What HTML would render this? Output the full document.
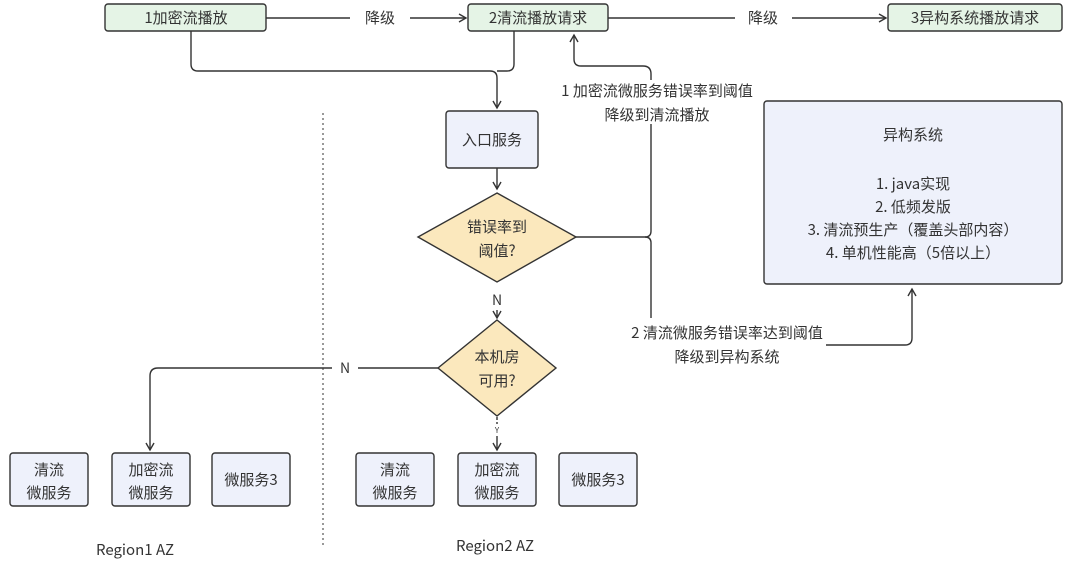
<!DOCTYPE html>
<html><head><meta charset="utf-8"><style>
html,body{margin:0;padding:0;background:#fff;}
svg{display:block;}
text{font-family:"Noto Sans CJK SC","Liberation Sans",sans-serif;fill:#333;}
</style></head><body>
<svg width="1080" height="569" viewBox="0 0 1080 569" xmlns="http://www.w3.org/2000/svg">
<defs>
<marker id="a" markerWidth="10" markerHeight="10" refX="8" refY="5" orient="auto" markerUnits="userSpaceOnUse">
<path d="M1,1 L8,5 L1,9" fill="none" stroke="#333" stroke-width="1.4"/>
</marker>
</defs>
<g stroke="#333" stroke-width="1.4" fill="none">
<line x1="266" y1="18" x2="350" y2="18"/>
<line x1="410" y1="18" x2="466" y2="18" marker-end="url(#a)"/>
<line x1="608" y1="18" x2="735" y2="18"/>
<line x1="792" y1="18" x2="886" y2="18" marker-end="url(#a)"/>
<path d="M191,31 V64 Q191,71 198,71 H490 Q497,71 497,78 V108" marker-end="url(#a)"/>
<path d="M514,31 V64 Q514,71 507,71 H497"/>
<line x1="497" y1="168" x2="497" y2="189" marker-end="url(#a)"/>
<path d="M576,237 H645 Q651,237 651,231 V74 Q651,66 643,66 H581 Q574,66 574,59 V35" marker-end="url(#a)"/>
<path d="M645,237 Q651,237 651,243 V318"/>
<path d="M826,345 H905 Q912,345 912,338 V289" marker-end="url(#a)"/>
<line x1="497" y1="310" x2="497" y2="318" marker-end="url(#a)"/>
<path d="M438,368 H358"/>
<path d="M332,368 H158 Q150,368 150,376 V450" marker-end="url(#a)"/>
<line x1="497" y1="417" x2="497" y2="424" stroke-dasharray="3,2"/>
<line x1="497" y1="436" x2="497" y2="450" marker-end="url(#a)"/>
<line x1="323" y1="113" x2="323" y2="545" stroke-width="1" stroke-dasharray="2,3"/>
</g>
<rect x="556" y="80" width="202" height="44" fill="#fff"/>
<g stroke="#333" stroke-width="1.4" fill="#e5f4e6">
<rect x="105" y="4" width="161" height="27" rx="3"/>
<rect x="468" y="4" width="140" height="27" rx="3"/>
<rect x="888" y="4" width="174" height="27" rx="3"/>
</g>
<g font-size="15" text-anchor="middle">
<text x="186" y="23">1加密流播放</text>
<text x="538" y="23">2清流播放请求</text>
<text x="975" y="23">3异构系统播放请求</text>
<text x="380" y="23">降级</text>
<text x="763" y="23">降级</text>
</g>
<rect x="446" y="111" width="92" height="57" rx="3" fill="#eef1fb" stroke="#333" stroke-width="1.4"/>
<text x="492" y="145" font-size="15" text-anchor="middle">入口服务</text>
<polygon points="497,193 576,237 497,282 418,237" fill="#fbe8bd" stroke="#333" stroke-width="1.4"/>
<text x="497" y="232" font-size="15" text-anchor="middle">错误率到</text>
<text x="497" y="256" font-size="15" text-anchor="middle">阈值?</text>
<polygon points="497,320 556,368 497,416 438,368" fill="#fbe8bd" stroke="#333" stroke-width="1.4"/>
<text x="497" y="362" font-size="15" text-anchor="middle">本机房</text>
<text x="497" y="386" font-size="15" text-anchor="middle">可用?</text>
<text x="497" y="305" font-size="14" text-anchor="middle">N</text>
<text x="345" y="373" font-size="14" text-anchor="middle">N</text>
<text x="497" y="433" font-size="8" text-anchor="middle">Y</text>
<g font-size="15" text-anchor="middle">
<text x="657" y="96">1 加密流微服务错误率到阈值</text>
<text x="657" y="120">降级到清流播放</text>
<text x="727" y="338">2 清流微服务错误率达到阈值</text>
<text x="727" y="362">降级到异构系统</text>
</g>
<rect x="764" y="101" width="298" height="183" rx="3" fill="#eef1fb" stroke="#333" stroke-width="1.4"/>
<g font-size="15" text-anchor="middle">
<text x="913" y="140">异构系统</text>
<text x="913" y="189">1. java实现</text>
<text x="913" y="212">2. 低频发版</text>
<text x="913" y="235">3. 清流预生产（覆盖头部内容）</text>
<text x="913" y="258">4. 单机性能高（5倍以上）</text>
</g>
<g stroke="#333" stroke-width="1.4" fill="#eef1fb">
<rect x="10" y="453" width="78" height="53" rx="3"/>
<rect x="112" y="453" width="78" height="53" rx="3"/>
<rect x="212" y="453" width="78" height="53" rx="3"/>
<rect x="356" y="453" width="78" height="53" rx="3"/>
<rect x="458" y="453" width="78" height="53" rx="3"/>
<rect x="559" y="453" width="78" height="53" rx="3"/>
</g>
<g font-size="15" text-anchor="middle">
<text x="49" y="475">清流</text><text x="49" y="498">微服务</text>
<text x="151" y="475">加密流</text><text x="151" y="498">微服务</text>
<text x="251" y="485">微服务3</text>
<text x="395" y="475">清流</text><text x="395" y="498">微服务</text>
<text x="497" y="475">加密流</text><text x="497" y="498">微服务</text>
<text x="598" y="485">微服务3</text>
<text x="135" y="555">Region1 AZ</text>
<text x="495" y="551">Region2 AZ</text>
</g>
</svg>
</body></html>
